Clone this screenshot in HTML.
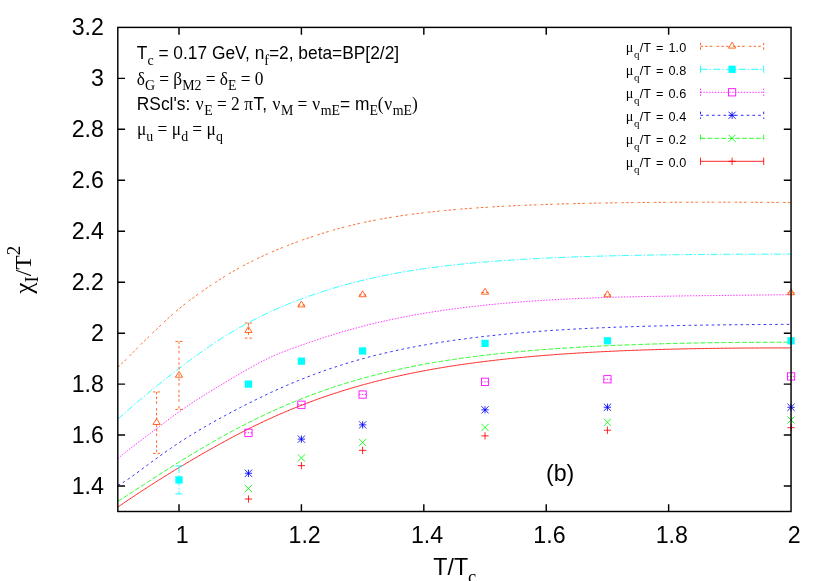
<!DOCTYPE html>
<html><head><meta charset="utf-8"><title>chart</title>
<style>html,body{margin:0;padding:0;background:#fff;}svg{display:block;will-change:transform;}text{font-family:"Liberation Sans",sans-serif;fill:#000;}.s{font-family:"Liberation Serif",serif;}</style></head><body>
<svg width="830" height="581" viewBox="0 0 830 581">
<rect width="830" height="581" fill="#fff"/>
<path d="M117.8 507.1 L119.15 506.18 L120.5 505.26 L121.85 504.34 L123.19 503.42 L124.54 502.51 L125.89 501.6 L127.24 500.68 L128.59 499.78 L129.94 498.87 L131.29 497.97 L132.63 497.07 L133.98 496.17 L135.33 495.27 L136.68 494.38 L138.03 493.49 L139.38 492.6 L140.73 491.71 L142.07 490.83 L143.42 489.95 L144.77 489.07 L146.12 488.19 L147.47 487.32 L148.82 486.45 L150.17 485.58 L151.51 484.71 L152.86 483.85 L154.21 482.99 L155.56 482.13 L156.91 481.27 L158.26 480.42 L159.61 479.57 L160.96 478.72 L162.3 477.88 L163.65 477.03 L165 476.19 L166.35 475.36 L167.7 474.52 L169.05 473.69 L170.4 472.86 L171.74 472.03 L173.09 471.2 L174.44 470.38 L175.79 469.56 L177.14 468.74 L178.49 467.93 L179.84 467.11 L181.18 466.3 L182.53 465.49 L183.88 464.69 L185.23 463.89 L186.58 463.08 L187.93 462.29 L189.28 461.49 L190.62 460.69 L191.97 459.9 L193.32 459.11 L194.67 458.33 L196.02 457.54 L197.37 456.76 L198.72 455.98 L200.06 455.2 L201.41 454.42 L202.76 453.65 L204.11 452.88 L205.46 452.11 L206.81 451.34 L208.16 450.57 L209.5 449.81 L210.85 449.05 L212.2 448.29 L213.55 447.54 L214.9 446.78 L216.25 446.03 L217.6 445.28 L218.94 444.53 L220.29 443.78 L221.64 443.04 L222.99 442.3 L224.34 441.56 L225.69 440.83 L227.04 440.1 L228.38 439.37 L229.73 438.64 L231.08 437.92 L232.43 437.2 L233.78 436.48 L235.13 435.77 L236.48 435.06 L237.83 434.35 L239.17 433.65 L240.52 432.95 L241.87 432.25 L243.22 431.56 L244.57 430.87 L245.92 430.18 L247.27 429.5 L248.61 428.82 L249.96 428.15 L251.31 427.48 L252.66 426.81 L254.01 426.15 L255.36 425.49 L256.71 424.83 L258.05 424.18 L259.4 423.53 L260.75 422.89 L262.1 422.25 L263.45 421.61 L264.8 420.98 L266.15 420.35 L267.49 419.73 L268.84 419.1 L270.19 418.49 L271.54 417.87 L272.89 417.26 L274.24 416.66 L275.59 416.06 L276.93 415.46 L278.28 414.87 L279.63 414.28 L280.98 413.69 L282.33 413.11 L283.68 412.53 L285.03 411.95 L286.37 411.38 L287.72 410.81 L289.07 410.25 L290.42 409.69 L291.77 409.14 L293.12 408.58 L294.47 408.04 L295.81 407.49 L297.16 406.95 L298.51 406.41 L299.86 405.88 L301.21 405.35 L302.56 404.83 L303.91 404.3 L305.26 403.79 L306.6 403.27 L307.95 402.76 L309.3 402.25 L310.65 401.75 L312 401.25 L313.35 400.75 L314.7 400.26 L316.04 399.77 L317.39 399.28 L318.74 398.8 L320.09 398.32 L321.44 397.85 L322.79 397.37 L324.14 396.91 L325.48 396.44 L326.83 395.98 L328.18 395.52 L329.53 395.07 L330.88 394.62 L332.23 394.17 L333.58 393.72 L334.92 393.28 L336.27 392.85 L337.62 392.41 L338.97 391.98 L340.32 391.55 L341.67 391.13 L343.02 390.71 L344.36 390.29 L345.71 389.87 L347.06 389.46 L348.41 389.05 L349.76 388.65 L351.11 388.25 L352.46 387.85 L353.8 387.45 L355.15 387.06 L356.5 386.67 L357.85 386.28 L359.2 385.9 L360.55 385.52 L361.9 385.14 L363.24 384.77 L364.59 384.4 L365.94 384.03 L367.29 383.66 L368.64 383.3 L369.99 382.94 L371.34 382.59 L372.68 382.23 L374.03 381.88 L375.38 381.53 L376.73 381.19 L378.08 380.85 L379.43 380.51 L380.78 380.17 L382.13 379.84 L383.47 379.51 L384.82 379.18 L386.17 378.85 L387.52 378.53 L388.87 378.21 L390.22 377.89 L391.57 377.58 L392.91 377.27 L394.26 376.96 L395.61 376.65 L396.96 376.35 L398.31 376.05 L399.66 375.75 L401.01 375.45 L402.35 375.16 L403.7 374.87 L405.05 374.58 L406.4 374.29 L407.75 374.01 L409.1 373.73 L410.45 373.45 L411.79 373.18 L413.14 372.9 L414.49 372.63 L415.84 372.36 L417.19 372.1 L418.54 371.83 L419.89 371.57 L421.23 371.31 L422.58 371.06 L423.93 370.8 L425.28 370.55 L426.63 370.3 L427.98 370.06 L429.33 369.81 L430.67 369.57 L432.02 369.33 L433.37 369.09 L434.72 368.85 L436.07 368.62 L437.42 368.39 L438.77 368.16 L440.11 367.93 L441.46 367.71 L442.81 367.48 L444.16 367.26 L445.51 367.04 L446.86 366.82 L448.21 366.61 L449.55 366.39 L450.9 366.18 L452.25 365.97 L453.6 365.77 L454.95 365.56 L456.3 365.36 L457.65 365.15 L459 364.95 L460.34 364.76 L461.69 364.56 L463.04 364.36 L464.39 364.17 L465.74 363.98 L467.09 363.79 L468.44 363.6 L469.78 363.42 L471.13 363.23 L472.48 363.05 L473.83 362.87 L475.18 362.69 L476.53 362.51 L477.88 362.34 L479.22 362.16 L480.57 361.99 L481.92 361.82 L483.27 361.65 L484.62 361.48 L485.97 361.32 L487.32 361.15 L488.66 360.99 L490.01 360.83 L491.36 360.67 L492.71 360.51 L494.06 360.35 L495.41 360.19 L496.76 360.04 L498.1 359.89 L499.45 359.74 L500.8 359.59 L502.15 359.44 L503.5 359.29 L504.85 359.14 L506.2 359 L507.54 358.86 L508.89 358.71 L510.24 358.57 L511.59 358.44 L512.94 358.3 L514.29 358.16 L515.64 358.03 L516.98 357.89 L518.33 357.76 L519.68 357.63 L521.03 357.5 L522.38 357.37 L523.73 357.24 L525.08 357.12 L526.42 356.99 L527.77 356.87 L529.12 356.75 L530.47 356.62 L531.82 356.5 L533.17 356.39 L534.52 356.27 L535.87 356.15 L537.21 356.04 L538.56 355.92 L539.91 355.81 L541.26 355.7 L542.61 355.59 L543.96 355.48 L545.31 355.37 L546.65 355.26 L548 355.15 L549.35 355.05 L550.7 354.94 L552.05 354.84 L553.4 354.74 L554.75 354.64 L556.09 354.54 L557.44 354.44 L558.79 354.34 L560.14 354.24 L561.49 354.15 L562.84 354.05 L564.19 353.96 L565.53 353.87 L566.88 353.78 L568.23 353.68 L569.58 353.59 L570.93 353.51 L572.28 353.42 L573.63 353.33 L574.97 353.24 L576.32 353.16 L577.67 353.07 L579.02 352.99 L580.37 352.91 L581.72 352.83 L583.07 352.75 L584.41 352.67 L585.76 352.59 L587.11 352.51 L588.46 352.43 L589.81 352.36 L591.16 352.28 L592.51 352.21 L593.85 352.13 L595.2 352.06 L596.55 351.99 L597.9 351.92 L599.25 351.85 L600.6 351.78 L601.95 351.71 L603.29 351.64 L604.64 351.58 L605.99 351.51 L607.34 351.44 L608.69 351.38 L610.04 351.32 L611.39 351.25 L612.74 351.19 L614.08 351.13 L615.43 351.07 L616.78 351.01 L618.13 350.95 L619.48 350.89 L620.83 350.84 L622.18 350.78 L623.52 350.72 L624.87 350.67 L626.22 350.61 L627.57 350.56 L628.92 350.51 L630.27 350.45 L631.62 350.4 L632.96 350.35 L634.31 350.3 L635.66 350.25 L637.01 350.2 L638.36 350.15 L639.71 350.11 L641.06 350.06 L642.4 350.01 L643.75 349.97 L645.1 349.92 L646.45 349.88 L647.8 349.83 L649.15 349.79 L650.5 349.75 L651.84 349.71 L653.19 349.67 L654.54 349.62 L655.89 349.58 L657.24 349.55 L658.59 349.51 L659.94 349.47 L661.28 349.43 L662.63 349.39 L663.98 349.36 L665.33 349.32 L666.68 349.29 L668.03 349.25 L669.38 349.22 L670.72 349.18 L672.07 349.15 L673.42 349.12 L674.77 349.09 L676.12 349.05 L677.47 349.02 L678.82 348.99 L680.17 348.96 L681.51 348.93 L682.86 348.9 L684.21 348.88 L685.56 348.85 L686.91 348.82 L688.26 348.79 L689.61 348.77 L690.95 348.74 L692.3 348.72 L693.65 348.69 L695 348.67 L696.35 348.64 L697.7 348.62 L699.05 348.6 L700.39 348.57 L701.74 348.55 L703.09 348.53 L704.44 348.51 L705.79 348.49 L707.14 348.47 L708.49 348.45 L709.83 348.43 L711.18 348.41 L712.53 348.39 L713.88 348.37 L715.23 348.35 L716.58 348.33 L717.93 348.32 L719.27 348.3 L720.62 348.28 L721.97 348.27 L723.32 348.25 L724.67 348.24 L726.02 348.22 L727.37 348.21 L728.71 348.19 L730.06 348.18 L731.41 348.17 L732.76 348.15 L734.11 348.14 L735.46 348.13 L736.81 348.12 L738.15 348.11 L739.5 348.1 L740.85 348.09 L742.2 348.07 L743.55 348.06 L744.9 348.06 L746.25 348.05 L747.59 348.04 L748.94 348.03 L750.29 348.02 L751.64 348.01 L752.99 348 L754.34 348 L755.69 347.99 L757.04 347.98 L758.38 347.98 L759.73 347.97 L761.08 347.97 L762.43 347.96 L763.78 347.95 L765.13 347.95 L766.48 347.95 L767.82 347.94 L769.17 347.94 L770.52 347.93 L771.87 347.93 L773.22 347.93 L774.57 347.92 L775.92 347.92 L777.26 347.92 L778.61 347.92 L779.96 347.92 L781.31 347.91 L782.66 347.91 L784.01 347.91 L785.36 347.91 L786.7 347.91 L788.05 347.91 L789.4 347.91 L790.75 347.91" fill="none" stroke="#ff0000" stroke-width="0.85"/>
<path d="M117.8 501.34 L119.15 500.51 L120.5 499.67 L121.85 498.82 L123.19 497.97 L124.54 497.12 L125.89 496.26 L127.24 495.39 L128.59 494.52 L129.94 493.65 L131.29 492.78 L132.63 491.9 L133.98 491.02 L135.33 490.14 L136.68 489.26 L138.03 488.38 L139.38 487.5 L140.73 486.62 L142.07 485.74 L143.42 484.86 L144.77 483.98 L146.12 483.1 L147.47 482.22 L148.82 481.34 L150.17 480.46 L151.51 479.58 L152.86 478.71 L154.21 477.83 L155.56 476.96 L156.91 476.09 L158.26 475.22 L159.61 474.35 L160.96 473.49 L162.3 472.62 L163.65 471.76 L165 470.9 L166.35 470.04 L167.7 469.19 L169.05 468.34 L170.4 467.48 L171.74 466.64 L173.09 465.79 L174.44 464.94 L175.79 464.1 L177.14 463.26 L178.49 462.43 L179.84 461.59 L181.18 460.76 L182.53 459.93 L183.88 459.1 L185.23 458.28 L186.58 457.45 L187.93 456.63 L189.28 455.82 L190.62 455 L191.97 454.19 L193.32 453.38 L194.67 452.57 L196.02 451.76 L197.37 450.96 L198.72 450.16 L200.06 449.36 L201.41 448.57 L202.76 447.78 L204.11 446.99 L205.46 446.2 L206.81 445.41 L208.16 444.63 L209.5 443.85 L210.85 443.07 L212.2 442.3 L213.55 441.52 L214.9 440.75 L216.25 439.99 L217.6 439.22 L218.94 438.46 L220.29 437.71 L221.64 436.95 L222.99 436.2 L224.34 435.45 L225.69 434.71 L227.04 433.97 L228.38 433.23 L229.73 432.5 L231.08 431.77 L232.43 431.04 L233.78 430.32 L235.13 429.6 L236.48 428.88 L237.83 428.17 L239.17 427.46 L240.52 426.75 L241.87 426.05 L243.22 425.35 L244.57 424.66 L245.92 423.97 L247.27 423.28 L248.61 422.6 L249.96 421.92 L251.31 421.24 L252.66 420.57 L254.01 419.91 L255.36 419.24 L256.71 418.58 L258.05 417.92 L259.4 417.27 L260.75 416.62 L262.1 415.98 L263.45 415.34 L264.8 414.7 L266.15 414.06 L267.49 413.43 L268.84 412.81 L270.19 412.18 L271.54 411.57 L272.89 410.95 L274.24 410.34 L275.59 409.73 L276.93 409.13 L278.28 408.53 L279.63 407.93 L280.98 407.34 L282.33 406.75 L283.68 406.17 L285.03 405.59 L286.37 405.01 L287.72 404.43 L289.07 403.87 L290.42 403.3 L291.77 402.74 L293.12 402.18 L294.47 401.63 L295.81 401.08 L297.16 400.53 L298.51 399.99 L299.86 399.45 L301.21 398.91 L302.56 398.38 L303.91 397.85 L305.26 397.33 L306.6 396.81 L307.95 396.29 L309.3 395.78 L310.65 395.27 L312 394.77 L313.35 394.27 L314.7 393.77 L316.04 393.27 L317.39 392.78 L318.74 392.3 L320.09 391.81 L321.44 391.33 L322.79 390.86 L324.14 390.38 L325.48 389.91 L326.83 389.45 L328.18 388.99 L329.53 388.53 L330.88 388.07 L332.23 387.62 L333.58 387.17 L334.92 386.73 L336.27 386.29 L337.62 385.85 L338.97 385.42 L340.32 384.99 L341.67 384.56 L343.02 384.14 L344.36 383.71 L345.71 383.3 L347.06 382.88 L348.41 382.47 L349.76 382.07 L351.11 381.66 L352.46 381.26 L353.8 380.86 L355.15 380.47 L356.5 380.08 L357.85 379.69 L359.2 379.31 L360.55 378.92 L361.9 378.55 L363.24 378.17 L364.59 377.8 L365.94 377.43 L367.29 377.06 L368.64 376.7 L369.99 376.34 L371.34 375.99 L372.68 375.63 L374.03 375.28 L375.38 374.93 L376.73 374.59 L378.08 374.25 L379.43 373.91 L380.78 373.57 L382.13 373.24 L383.47 372.91 L384.82 372.58 L386.17 372.26 L387.52 371.94 L388.87 371.62 L390.22 371.31 L391.57 370.99 L392.91 370.68 L394.26 370.38 L395.61 370.07 L396.96 369.77 L398.31 369.47 L399.66 369.18 L401.01 368.88 L402.35 368.59 L403.7 368.31 L405.05 368.02 L406.4 367.74 L407.75 367.46 L409.1 367.18 L410.45 366.91 L411.79 366.64 L413.14 366.37 L414.49 366.1 L415.84 365.84 L417.19 365.57 L418.54 365.32 L419.89 365.06 L421.23 364.81 L422.58 364.55 L423.93 364.3 L425.28 364.06 L426.63 363.81 L427.98 363.57 L429.33 363.33 L430.67 363.1 L432.02 362.86 L433.37 362.63 L434.72 362.4 L436.07 362.17 L437.42 361.94 L438.77 361.72 L440.11 361.5 L441.46 361.28 L442.81 361.06 L444.16 360.85 L445.51 360.64 L446.86 360.42 L448.21 360.22 L449.55 360.01 L450.9 359.8 L452.25 359.6 L453.6 359.4 L454.95 359.2 L456.3 359 L457.65 358.81 L459 358.62 L460.34 358.42 L461.69 358.24 L463.04 358.05 L464.39 357.86 L465.74 357.68 L467.09 357.5 L468.44 357.31 L469.78 357.14 L471.13 356.96 L472.48 356.78 L473.83 356.61 L475.18 356.44 L476.53 356.27 L477.88 356.1 L479.22 355.93 L480.57 355.77 L481.92 355.6 L483.27 355.44 L484.62 355.28 L485.97 355.12 L487.32 354.96 L488.66 354.81 L490.01 354.65 L491.36 354.5 L492.71 354.35 L494.06 354.2 L495.41 354.05 L496.76 353.9 L498.1 353.76 L499.45 353.61 L500.8 353.47 L502.15 353.33 L503.5 353.19 L504.85 353.05 L506.2 352.91 L507.54 352.77 L508.89 352.64 L510.24 352.51 L511.59 352.37 L512.94 352.24 L514.29 352.11 L515.64 351.99 L516.98 351.86 L518.33 351.73 L519.68 351.61 L521.03 351.48 L522.38 351.36 L523.73 351.24 L525.08 351.12 L526.42 351 L527.77 350.89 L529.12 350.77 L530.47 350.66 L531.82 350.54 L533.17 350.43 L534.52 350.32 L535.87 350.21 L537.21 350.1 L538.56 349.99 L539.91 349.88 L541.26 349.78 L542.61 349.67 L543.96 349.57 L545.31 349.47 L546.65 349.36 L548 349.26 L549.35 349.16 L550.7 349.06 L552.05 348.97 L553.4 348.87 L554.75 348.77 L556.09 348.68 L557.44 348.59 L558.79 348.49 L560.14 348.4 L561.49 348.31 L562.84 348.22 L564.19 348.13 L565.53 348.04 L566.88 347.96 L568.23 347.87 L569.58 347.79 L570.93 347.7 L572.28 347.62 L573.63 347.54 L574.97 347.45 L576.32 347.37 L577.67 347.29 L579.02 347.21 L580.37 347.14 L581.72 347.06 L583.07 346.98 L584.41 346.91 L585.76 346.83 L587.11 346.76 L588.46 346.68 L589.81 346.61 L591.16 346.54 L592.51 346.47 L593.85 346.4 L595.2 346.33 L596.55 346.26 L597.9 346.19 L599.25 346.13 L600.6 346.06 L601.95 346 L603.29 345.93 L604.64 345.87 L605.99 345.8 L607.34 345.74 L608.69 345.68 L610.04 345.62 L611.39 345.56 L612.74 345.5 L614.08 345.44 L615.43 345.38 L616.78 345.32 L618.13 345.27 L619.48 345.21 L620.83 345.16 L622.18 345.1 L623.52 345.05 L624.87 344.99 L626.22 344.94 L627.57 344.89 L628.92 344.84 L630.27 344.79 L631.62 344.74 L632.96 344.69 L634.31 344.64 L635.66 344.59 L637.01 344.54 L638.36 344.49 L639.71 344.45 L641.06 344.4 L642.4 344.36 L643.75 344.31 L645.1 344.27 L646.45 344.22 L647.8 344.18 L649.15 344.14 L650.5 344.1 L651.84 344.05 L653.19 344.01 L654.54 343.97 L655.89 343.93 L657.24 343.9 L658.59 343.86 L659.94 343.82 L661.28 343.78 L662.63 343.74 L663.98 343.71 L665.33 343.67 L666.68 343.64 L668.03 343.6 L669.38 343.57 L670.72 343.53 L672.07 343.5 L673.42 343.47 L674.77 343.44 L676.12 343.41 L677.47 343.37 L678.82 343.34 L680.17 343.31 L681.51 343.28 L682.86 343.25 L684.21 343.23 L685.56 343.2 L686.91 343.17 L688.26 343.14 L689.61 343.12 L690.95 343.09 L692.3 343.06 L693.65 343.04 L695 343.01 L696.35 342.99 L697.7 342.96 L699.05 342.94 L700.39 342.92 L701.74 342.89 L703.09 342.87 L704.44 342.85 L705.79 342.83 L707.14 342.81 L708.49 342.79 L709.83 342.77 L711.18 342.75 L712.53 342.73 L713.88 342.71 L715.23 342.69 L716.58 342.67 L717.93 342.65 L719.27 342.64 L720.62 342.62 L721.97 342.6 L723.32 342.59 L724.67 342.57 L726.02 342.56 L727.37 342.54 L728.71 342.53 L730.06 342.51 L731.41 342.5 L732.76 342.49 L734.11 342.47 L735.46 342.46 L736.81 342.45 L738.15 342.43 L739.5 342.42 L740.85 342.41 L742.2 342.4 L743.55 342.39 L744.9 342.38 L746.25 342.37 L747.59 342.36 L748.94 342.35 L750.29 342.34 L751.64 342.33 L752.99 342.33 L754.34 342.32 L755.69 342.31 L757.04 342.3 L758.38 342.3 L759.73 342.29 L761.08 342.28 L762.43 342.28 L763.78 342.27 L765.13 342.27 L766.48 342.26 L767.82 342.26 L769.17 342.25 L770.52 342.25 L771.87 342.25 L773.22 342.24 L774.57 342.24 L775.92 342.24 L777.26 342.24 L778.61 342.23 L779.96 342.23 L781.31 342.23 L782.66 342.23 L784.01 342.23 L785.36 342.23 L786.7 342.23 L788.05 342.23 L789.4 342.23 L790.75 342.23" fill="none" stroke="#00ff00" stroke-width="0.85" stroke-dasharray="4.86,2.06"/>
<path d="M117.8 485.43 L119.15 484.71 L120.5 483.94 L121.85 483.15 L123.19 482.32 L124.54 481.47 L125.89 480.59 L127.24 479.69 L128.59 478.78 L129.94 477.85 L131.29 476.91 L132.63 475.95 L133.98 474.99 L135.33 474.01 L136.68 473.03 L138.03 472.04 L139.38 471.05 L140.73 470.05 L142.07 469.06 L143.42 468.06 L144.77 467.05 L146.12 466.05 L147.47 465.05 L148.82 464.05 L150.17 463.05 L151.51 462.06 L152.86 461.06 L154.21 460.07 L155.56 459.09 L156.91 458.1 L158.26 457.13 L159.61 456.15 L160.96 455.18 L162.3 454.22 L163.65 453.26 L165 452.3 L166.35 451.36 L167.7 450.41 L169.05 449.48 L170.4 448.55 L171.74 447.62 L173.09 446.7 L174.44 445.79 L175.79 444.89 L177.14 443.99 L178.49 443.1 L179.84 442.21 L181.18 441.33 L182.53 440.46 L183.88 439.6 L185.23 438.74 L186.58 437.89 L187.93 437.04 L189.28 436.2 L190.62 435.36 L191.97 434.53 L193.32 433.71 L194.67 432.89 L196.02 432.07 L197.37 431.26 L198.72 430.46 L200.06 429.66 L201.41 428.86 L202.76 428.07 L204.11 427.29 L205.46 426.5 L206.81 425.73 L208.16 424.95 L209.5 424.18 L210.85 423.42 L212.2 422.65 L213.55 421.9 L214.9 421.14 L216.25 420.39 L217.6 419.64 L218.94 418.9 L220.29 418.16 L221.64 417.42 L222.99 416.69 L224.34 415.96 L225.69 415.23 L227.04 414.51 L228.38 413.79 L229.73 413.07 L231.08 412.35 L232.43 411.64 L233.78 410.93 L235.13 410.22 L236.48 409.52 L237.83 408.82 L239.17 408.12 L240.52 407.42 L241.87 406.73 L243.22 406.04 L244.57 405.35 L245.92 404.67 L247.27 403.98 L248.61 403.3 L249.96 402.62 L251.31 401.95 L252.66 401.28 L254.01 400.61 L255.36 399.94 L256.71 399.28 L258.05 398.62 L259.4 397.96 L260.75 397.31 L262.1 396.66 L263.45 396.01 L264.8 395.37 L266.15 394.73 L267.49 394.09 L268.84 393.46 L270.19 392.83 L271.54 392.2 L272.89 391.58 L274.24 390.96 L275.59 390.35 L276.93 389.74 L278.28 389.13 L279.63 388.53 L280.98 387.93 L282.33 387.33 L283.68 386.74 L285.03 386.15 L286.37 385.57 L287.72 384.99 L289.07 384.41 L290.42 383.84 L291.77 383.27 L293.12 382.7 L294.47 382.14 L295.81 381.59 L297.16 381.03 L298.51 380.48 L299.86 379.94 L301.21 379.4 L302.56 378.86 L303.91 378.33 L305.26 377.8 L306.6 377.27 L307.95 376.75 L309.3 376.23 L310.65 375.72 L312 375.2 L313.35 374.7 L314.7 374.2 L316.04 373.7 L317.39 373.2 L318.74 372.71 L320.09 372.22 L321.44 371.74 L322.79 371.26 L324.14 370.78 L325.48 370.31 L326.83 369.84 L328.18 369.38 L329.53 368.92 L330.88 368.46 L332.23 368.01 L333.58 367.56 L334.92 367.11 L336.27 366.67 L337.62 366.23 L338.97 365.8 L340.32 365.36 L341.67 364.94 L343.02 364.51 L344.36 364.09 L345.71 363.67 L347.06 363.26 L348.41 362.85 L349.76 362.45 L351.11 362.04 L352.46 361.64 L353.8 361.25 L355.15 360.86 L356.5 360.47 L357.85 360.08 L359.2 359.7 L360.55 359.32 L361.9 358.95 L363.24 358.58 L364.59 358.21 L365.94 357.84 L367.29 357.48 L368.64 357.12 L369.99 356.77 L371.34 356.42 L372.68 356.07 L374.03 355.72 L375.38 355.38 L376.73 355.05 L378.08 354.71 L379.43 354.38 L380.78 354.05 L382.13 353.73 L383.47 353.4 L384.82 353.08 L386.17 352.77 L387.52 352.46 L388.87 352.15 L390.22 351.84 L391.57 351.54 L392.91 351.24 L394.26 350.94 L395.61 350.64 L396.96 350.35 L398.31 350.06 L399.66 349.78 L401.01 349.49 L402.35 349.21 L403.7 348.94 L405.05 348.66 L406.4 348.39 L407.75 348.12 L409.1 347.85 L410.45 347.59 L411.79 347.32 L413.14 347.07 L414.49 346.81 L415.84 346.55 L417.19 346.3 L418.54 346.05 L419.89 345.81 L421.23 345.56 L422.58 345.32 L423.93 345.08 L425.28 344.84 L426.63 344.61 L427.98 344.37 L429.33 344.14 L430.67 343.92 L432.02 343.69 L433.37 343.47 L434.72 343.24 L436.07 343.02 L437.42 342.81 L438.77 342.59 L440.11 342.38 L441.46 342.17 L442.81 341.96 L444.16 341.75 L445.51 341.55 L446.86 341.34 L448.21 341.14 L449.55 340.94 L450.9 340.75 L452.25 340.55 L453.6 340.36 L454.95 340.17 L456.3 339.98 L457.65 339.79 L459 339.6 L460.34 339.42 L461.69 339.24 L463.04 339.06 L464.39 338.88 L465.74 338.7 L467.09 338.53 L468.44 338.35 L469.78 338.18 L471.13 338.01 L472.48 337.84 L473.83 337.68 L475.18 337.51 L476.53 337.35 L477.88 337.19 L479.22 337.03 L480.57 336.87 L481.92 336.71 L483.27 336.56 L484.62 336.4 L485.97 336.25 L487.32 336.1 L488.66 335.95 L490.01 335.8 L491.36 335.66 L492.71 335.51 L494.06 335.37 L495.41 335.23 L496.76 335.09 L498.1 334.95 L499.45 334.81 L500.8 334.68 L502.15 334.54 L503.5 334.41 L504.85 334.28 L506.2 334.15 L507.54 334.02 L508.89 333.89 L510.24 333.76 L511.59 333.64 L512.94 333.51 L514.29 333.39 L515.64 333.27 L516.98 333.15 L518.33 333.03 L519.68 332.91 L521.03 332.8 L522.38 332.68 L523.73 332.57 L525.08 332.45 L526.42 332.34 L527.77 332.23 L529.12 332.12 L530.47 332.02 L531.82 331.91 L533.17 331.8 L534.52 331.7 L535.87 331.6 L537.21 331.49 L538.56 331.39 L539.91 331.29 L541.26 331.19 L542.61 331.1 L543.96 331 L545.31 330.9 L546.65 330.81 L548 330.72 L549.35 330.62 L550.7 330.53 L552.05 330.44 L553.4 330.35 L554.75 330.27 L556.09 330.18 L557.44 330.09 L558.79 330.01 L560.14 329.92 L561.49 329.84 L562.84 329.76 L564.19 329.68 L565.53 329.59 L566.88 329.52 L568.23 329.44 L569.58 329.36 L570.93 329.28 L572.28 329.21 L573.63 329.13 L574.97 329.06 L576.32 328.99 L577.67 328.91 L579.02 328.84 L580.37 328.77 L581.72 328.7 L583.07 328.63 L584.41 328.57 L585.76 328.5 L587.11 328.43 L588.46 328.37 L589.81 328.3 L591.16 328.24 L592.51 328.18 L593.85 328.12 L595.2 328.06 L596.55 328 L597.9 327.94 L599.25 327.88 L600.6 327.82 L601.95 327.76 L603.29 327.71 L604.64 327.65 L605.99 327.6 L607.34 327.54 L608.69 327.49 L610.04 327.44 L611.39 327.38 L612.74 327.33 L614.08 327.28 L615.43 327.23 L616.78 327.18 L618.13 327.13 L619.48 327.09 L620.83 327.04 L622.18 326.99 L623.52 326.95 L624.87 326.9 L626.22 326.86 L627.57 326.81 L628.92 326.77 L630.27 326.73 L631.62 326.68 L632.96 326.64 L634.31 326.6 L635.66 326.56 L637.01 326.52 L638.36 326.48 L639.71 326.44 L641.06 326.4 L642.4 326.36 L643.75 326.33 L645.1 326.29 L646.45 326.25 L647.8 326.22 L649.15 326.18 L650.5 326.15 L651.84 326.11 L653.19 326.08 L654.54 326.05 L655.89 326.01 L657.24 325.98 L658.59 325.95 L659.94 325.92 L661.28 325.89 L662.63 325.86 L663.98 325.83 L665.33 325.8 L666.68 325.77 L668.03 325.74 L669.38 325.71 L670.72 325.68 L672.07 325.65 L673.42 325.63 L674.77 325.6 L676.12 325.57 L677.47 325.55 L678.82 325.52 L680.17 325.5 L681.51 325.47 L682.86 325.45 L684.21 325.42 L685.56 325.4 L686.91 325.38 L688.26 325.35 L689.61 325.33 L690.95 325.31 L692.3 325.29 L693.65 325.26 L695 325.24 L696.35 325.22 L697.7 325.2 L699.05 325.18 L700.39 325.16 L701.74 325.14 L703.09 325.12 L704.44 325.1 L705.79 325.08 L707.14 325.06 L708.49 325.05 L709.83 325.03 L711.18 325.01 L712.53 324.99 L713.88 324.98 L715.23 324.96 L716.58 324.94 L717.93 324.93 L719.27 324.91 L720.62 324.89 L721.97 324.88 L723.32 324.86 L724.67 324.85 L726.02 324.83 L727.37 324.82 L728.71 324.81 L730.06 324.79 L731.41 324.78 L732.76 324.76 L734.11 324.75 L735.46 324.74 L736.81 324.72 L738.15 324.71 L739.5 324.7 L740.85 324.69 L742.2 324.67 L743.55 324.66 L744.9 324.65 L746.25 324.64 L747.59 324.63 L748.94 324.62 L750.29 324.61 L751.64 324.6 L752.99 324.58 L754.34 324.57 L755.69 324.56 L757.04 324.55 L758.38 324.54 L759.73 324.53 L761.08 324.53 L762.43 324.52 L763.78 324.51 L765.13 324.5 L766.48 324.49 L767.82 324.48 L769.17 324.47 L770.52 324.46 L771.87 324.46 L773.22 324.45 L774.57 324.44 L775.92 324.43 L777.26 324.42 L778.61 324.42 L779.96 324.41 L781.31 324.4 L782.66 324.39 L784.01 324.39 L785.36 324.38 L786.7 324.37 L788.05 324.37 L789.4 324.36 L790.75 324.35" fill="none" stroke="#0000ff" stroke-width="0.85" stroke-dasharray="2.56,3.21"/>
<path d="M117.8 458.5 L119.15 457.38 L120.5 456.27 L121.85 455.17 L123.19 454.09 L124.54 453.02 L125.89 451.95 L127.24 450.9 L128.59 449.85 L129.94 448.81 L131.29 447.78 L132.63 446.74 L133.98 445.72 L135.33 444.69 L136.68 443.67 L138.03 442.65 L139.38 441.63 L140.73 440.61 L142.07 439.59 L143.42 438.58 L144.77 437.56 L146.12 436.54 L147.47 435.52 L148.82 434.51 L150.17 433.49 L151.51 432.46 L152.86 431.44 L154.21 430.42 L155.56 429.4 L156.91 428.37 L158.26 427.34 L159.61 426.31 L160.96 425.29 L162.3 424.26 L163.65 423.24 L165 422.21 L166.35 421.2 L167.7 420.18 L169.05 419.17 L170.4 418.17 L171.74 417.17 L173.09 416.18 L174.44 415.19 L175.79 414.21 L177.14 413.24 L178.49 412.28 L179.84 411.32 L181.18 410.37 L182.53 409.43 L183.88 408.5 L185.23 407.57 L186.58 406.65 L187.93 405.74 L189.28 404.84 L190.62 403.94 L191.97 403.05 L193.32 402.16 L194.67 401.28 L196.02 400.4 L197.37 399.53 L198.72 398.67 L200.06 397.81 L201.41 396.95 L202.76 396.1 L204.11 395.25 L205.46 394.4 L206.81 393.56 L208.16 392.72 L209.5 391.89 L210.85 391.06 L212.2 390.23 L213.55 389.41 L214.9 388.58 L216.25 387.76 L217.6 386.95 L218.94 386.13 L220.29 385.32 L221.64 384.51 L222.99 383.7 L224.34 382.89 L225.69 382.09 L227.04 381.29 L228.38 380.49 L229.73 379.69 L231.08 378.89 L232.43 378.1 L233.78 377.3 L235.13 376.51 L236.48 375.72 L237.83 374.93 L239.17 374.14 L240.52 373.35 L241.87 372.57 L243.22 371.79 L244.57 371.01 L245.92 370.23 L247.27 369.46 L248.61 368.69 L249.96 367.93 L251.31 367.17 L252.66 366.42 L254.01 365.68 L255.36 364.95 L256.71 364.22 L258.05 363.5 L259.4 362.78 L260.75 362.08 L262.1 361.39 L263.45 360.7 L264.8 360.02 L266.15 359.36 L267.49 358.7 L268.84 358.06 L270.19 357.42 L271.54 356.8 L272.89 356.18 L274.24 355.58 L275.59 354.99 L276.93 354.41 L278.28 353.84 L279.63 353.29 L280.98 352.74 L282.33 352.21 L283.68 351.69 L285.03 351.17 L286.37 350.66 L287.72 350.16 L289.07 349.66 L290.42 349.17 L291.77 348.67 L293.12 348.18 L294.47 347.69 L295.81 347.2 L297.16 346.71 L298.51 346.23 L299.86 345.74 L301.21 345.26 L302.56 344.79 L303.91 344.31 L305.26 343.84 L306.6 343.37 L307.95 342.9 L309.3 342.43 L310.65 341.97 L312 341.51 L313.35 341.05 L314.7 340.6 L316.04 340.15 L317.39 339.7 L318.74 339.25 L320.09 338.8 L321.44 338.36 L322.79 337.92 L324.14 337.49 L325.48 337.06 L326.83 336.62 L328.18 336.2 L329.53 335.77 L330.88 335.35 L332.23 334.93 L333.58 334.52 L334.92 334.1 L336.27 333.69 L337.62 333.29 L338.97 332.88 L340.32 332.48 L341.67 332.08 L343.02 331.69 L344.36 331.29 L345.71 330.9 L347.06 330.52 L348.41 330.13 L349.76 329.75 L351.11 329.38 L352.46 329 L353.8 328.63 L355.15 328.26 L356.5 327.9 L357.85 327.53 L359.2 327.18 L360.55 326.82 L361.9 326.47 L363.24 326.12 L364.59 325.77 L365.94 325.42 L367.29 325.08 L368.64 324.75 L369.99 324.41 L371.34 324.08 L372.68 323.75 L374.03 323.42 L375.38 323.1 L376.73 322.78 L378.08 322.46 L379.43 322.15 L380.78 321.84 L382.13 321.53 L383.47 321.23 L384.82 320.92 L386.17 320.63 L387.52 320.33 L388.87 320.04 L390.22 319.75 L391.57 319.46 L392.91 319.17 L394.26 318.89 L395.61 318.61 L396.96 318.34 L398.31 318.06 L399.66 317.79 L401.01 317.52 L402.35 317.26 L403.7 317 L405.05 316.74 L406.4 316.48 L407.75 316.22 L409.1 315.97 L410.45 315.72 L411.79 315.47 L413.14 315.23 L414.49 314.98 L415.84 314.74 L417.19 314.51 L418.54 314.27 L419.89 314.04 L421.23 313.81 L422.58 313.58 L423.93 313.35 L425.28 313.13 L426.63 312.9 L427.98 312.68 L429.33 312.47 L430.67 312.25 L432.02 312.04 L433.37 311.83 L434.72 311.62 L436.07 311.41 L437.42 311.21 L438.77 311 L440.11 310.8 L441.46 310.6 L442.81 310.41 L444.16 310.21 L445.51 310.02 L446.86 309.83 L448.21 309.64 L449.55 309.45 L450.9 309.27 L452.25 309.09 L453.6 308.9 L454.95 308.73 L456.3 308.55 L457.65 308.37 L459 308.2 L460.34 308.03 L461.69 307.86 L463.04 307.69 L464.39 307.52 L465.74 307.36 L467.09 307.19 L468.44 307.03 L469.78 306.87 L471.13 306.71 L472.48 306.56 L473.83 306.4 L475.18 306.25 L476.53 306.1 L477.88 305.95 L479.22 305.8 L480.57 305.65 L481.92 305.5 L483.27 305.36 L484.62 305.22 L485.97 305.08 L487.32 304.94 L488.66 304.8 L490.01 304.66 L491.36 304.53 L492.71 304.4 L494.06 304.26 L495.41 304.13 L496.76 304.01 L498.1 303.88 L499.45 303.75 L500.8 303.63 L502.15 303.5 L503.5 303.38 L504.85 303.26 L506.2 303.14 L507.54 303.03 L508.89 302.91 L510.24 302.79 L511.59 302.68 L512.94 302.57 L514.29 302.46 L515.64 302.35 L516.98 302.24 L518.33 302.13 L519.68 302.02 L521.03 301.92 L522.38 301.82 L523.73 301.71 L525.08 301.61 L526.42 301.51 L527.77 301.41 L529.12 301.32 L530.47 301.22 L531.82 301.13 L533.17 301.03 L534.52 300.94 L535.87 300.85 L537.21 300.76 L538.56 300.67 L539.91 300.58 L541.26 300.49 L542.61 300.41 L543.96 300.32 L545.31 300.24 L546.65 300.16 L548 300.07 L549.35 299.99 L550.7 299.91 L552.05 299.84 L553.4 299.76 L554.75 299.68 L556.09 299.61 L557.44 299.53 L558.79 299.46 L560.14 299.39 L561.49 299.32 L562.84 299.25 L564.19 299.18 L565.53 299.11 L566.88 299.04 L568.23 298.98 L569.58 298.91 L570.93 298.85 L572.28 298.78 L573.63 298.72 L574.97 298.66 L576.32 298.6 L577.67 298.54 L579.02 298.48 L580.37 298.42 L581.72 298.37 L583.07 298.31 L584.41 298.26 L585.76 298.2 L587.11 298.15 L588.46 298.1 L589.81 298.04 L591.16 297.99 L592.51 297.94 L593.85 297.89 L595.2 297.85 L596.55 297.8 L597.9 297.75 L599.25 297.71 L600.6 297.66 L601.95 297.62 L603.29 297.58 L604.64 297.53 L605.99 297.49 L607.34 297.45 L608.69 297.41 L610.04 297.37 L611.39 297.33 L612.74 297.29 L614.08 297.25 L615.43 297.22 L616.78 297.18 L618.13 297.14 L619.48 297.11 L620.83 297.07 L622.18 297.04 L623.52 297 L624.87 296.97 L626.22 296.94 L627.57 296.91 L628.92 296.88 L630.27 296.84 L631.62 296.81 L632.96 296.78 L634.31 296.75 L635.66 296.73 L637.01 296.7 L638.36 296.67 L639.71 296.64 L641.06 296.61 L642.4 296.59 L643.75 296.56 L645.1 296.53 L646.45 296.51 L647.8 296.48 L649.15 296.46 L650.5 296.43 L651.84 296.41 L653.19 296.39 L654.54 296.36 L655.89 296.34 L657.24 296.32 L658.59 296.29 L659.94 296.27 L661.28 296.25 L662.63 296.23 L663.98 296.21 L665.33 296.19 L666.68 296.16 L668.03 296.14 L669.38 296.12 L670.72 296.1 L672.07 296.08 L673.42 296.06 L674.77 296.04 L676.12 296.03 L677.47 296.01 L678.82 295.99 L680.17 295.97 L681.51 295.95 L682.86 295.93 L684.21 295.92 L685.56 295.9 L686.91 295.88 L688.26 295.86 L689.61 295.85 L690.95 295.83 L692.3 295.81 L693.65 295.8 L695 295.78 L696.35 295.76 L697.7 295.75 L699.05 295.73 L700.39 295.71 L701.74 295.7 L703.09 295.68 L704.44 295.67 L705.79 295.65 L707.14 295.63 L708.49 295.62 L709.83 295.6 L711.18 295.59 L712.53 295.57 L713.88 295.56 L715.23 295.54 L716.58 295.53 L717.93 295.51 L719.27 295.5 L720.62 295.48 L721.97 295.47 L723.32 295.45 L724.67 295.44 L726.02 295.42 L727.37 295.41 L728.71 295.39 L730.06 295.38 L731.41 295.36 L732.76 295.35 L734.11 295.33 L735.46 295.31 L736.81 295.3 L738.15 295.28 L739.5 295.27 L740.85 295.25 L742.2 295.24 L743.55 295.22 L744.9 295.21 L746.25 295.19 L747.59 295.18 L748.94 295.16 L750.29 295.15 L751.64 295.13 L752.99 295.12 L754.34 295.1 L755.69 295.09 L757.04 295.07 L758.38 295.05 L759.73 295.04 L761.08 295.02 L762.43 295.01 L763.78 294.99 L765.13 294.97 L766.48 294.96 L767.82 294.94 L769.17 294.92 L770.52 294.91 L771.87 294.89 L773.22 294.87 L774.57 294.86 L775.92 294.84 L777.26 294.82 L778.61 294.81 L779.96 294.79 L781.31 294.77 L782.66 294.75 L784.01 294.74 L785.36 294.72 L786.7 294.7 L788.05 294.68 L789.4 294.66 L790.75 294.64" fill="none" stroke="#ff00ff" stroke-width="0.85" stroke-dasharray="1.4,1.48"/>
<path d="M117.8 419.25 L119.15 418.03 L120.5 416.81 L121.85 415.6 L123.19 414.4 L124.54 413.21 L125.89 412.01 L127.24 410.83 L128.59 409.65 L129.94 408.47 L131.29 407.3 L132.63 406.14 L133.98 404.97 L135.33 403.82 L136.68 402.67 L138.03 401.52 L139.38 400.38 L140.73 399.24 L142.07 398.1 L143.42 396.97 L144.77 395.84 L146.12 394.72 L147.47 393.6 L148.82 392.49 L150.17 391.38 L151.51 390.27 L152.86 389.17 L154.21 388.07 L155.56 386.97 L156.91 385.88 L158.26 384.79 L159.61 383.71 L160.96 382.63 L162.3 381.55 L163.65 380.47 L165 379.4 L166.35 378.33 L167.7 377.27 L169.05 376.21 L170.4 375.15 L171.74 374.1 L173.09 373.04 L174.44 372 L175.79 370.95 L177.14 369.91 L178.49 368.87 L179.84 367.83 L181.18 366.8 L182.53 365.77 L183.88 364.75 L185.23 363.73 L186.58 362.71 L187.93 361.7 L189.28 360.69 L190.62 359.69 L191.97 358.7 L193.32 357.7 L194.67 356.72 L196.02 355.74 L197.37 354.76 L198.72 353.8 L200.06 352.83 L201.41 351.88 L202.76 350.93 L204.11 349.98 L205.46 349.05 L206.81 348.12 L208.16 347.19 L209.5 346.27 L210.85 345.36 L212.2 344.46 L213.55 343.56 L214.9 342.67 L216.25 341.78 L217.6 340.91 L218.94 340.03 L220.29 339.17 L221.64 338.31 L222.99 337.46 L224.34 336.62 L225.69 335.78 L227.04 334.95 L228.38 334.13 L229.73 333.31 L231.08 332.5 L232.43 331.7 L233.78 330.9 L235.13 330.11 L236.48 329.33 L237.83 328.55 L239.17 327.78 L240.52 327.02 L241.87 326.26 L243.22 325.51 L244.57 324.77 L245.92 324.03 L247.27 323.3 L248.61 322.58 L249.96 321.86 L251.31 321.15 L252.66 320.45 L254.01 319.75 L255.36 319.06 L256.71 318.38 L258.05 317.7 L259.4 317.02 L260.75 316.36 L262.1 315.7 L263.45 315.05 L264.8 314.4 L266.15 313.76 L267.49 313.12 L268.84 312.49 L270.19 311.87 L271.54 311.25 L272.89 310.64 L274.24 310.03 L275.59 309.43 L276.93 308.84 L278.28 308.25 L279.63 307.67 L280.98 307.09 L282.33 306.51 L283.68 305.95 L285.03 305.38 L286.37 304.83 L287.72 304.27 L289.07 303.73 L290.42 303.18 L291.77 302.65 L293.12 302.11 L294.47 301.59 L295.81 301.06 L297.16 300.54 L298.51 300.03 L299.86 299.52 L301.21 299.02 L302.56 298.52 L303.91 298.02 L305.26 297.53 L306.6 297.04 L307.95 296.56 L309.3 296.08 L310.65 295.61 L312 295.14 L313.35 294.68 L314.7 294.21 L316.04 293.76 L317.39 293.3 L318.74 292.86 L320.09 292.41 L321.44 291.97 L322.79 291.53 L324.14 291.1 L325.48 290.67 L326.83 290.25 L328.18 289.82 L329.53 289.41 L330.88 288.99 L332.23 288.58 L333.58 288.18 L334.92 287.78 L336.27 287.38 L337.62 286.98 L338.97 286.59 L340.32 286.21 L341.67 285.83 L343.02 285.45 L344.36 285.07 L345.71 284.7 L347.06 284.33 L348.41 283.97 L349.76 283.61 L351.11 283.25 L352.46 282.9 L353.8 282.55 L355.15 282.2 L356.5 281.86 L357.85 281.52 L359.2 281.18 L360.55 280.85 L361.9 280.52 L363.24 280.2 L364.59 279.87 L365.94 279.56 L367.29 279.24 L368.64 278.93 L369.99 278.62 L371.34 278.31 L372.68 278.01 L374.03 277.71 L375.38 277.42 L376.73 277.12 L378.08 276.83 L379.43 276.55 L380.78 276.27 L382.13 275.98 L383.47 275.71 L384.82 275.43 L386.17 275.16 L387.52 274.89 L388.87 274.63 L390.22 274.37 L391.57 274.11 L392.91 273.85 L394.26 273.6 L395.61 273.35 L396.96 273.1 L398.31 272.85 L399.66 272.61 L401.01 272.37 L402.35 272.13 L403.7 271.9 L405.05 271.67 L406.4 271.44 L407.75 271.21 L409.1 270.99 L410.45 270.77 L411.79 270.55 L413.14 270.34 L414.49 270.12 L415.84 269.91 L417.19 269.71 L418.54 269.5 L419.89 269.3 L421.23 269.1 L422.58 268.9 L423.93 268.71 L425.28 268.51 L426.63 268.32 L427.98 268.13 L429.33 267.95 L430.67 267.77 L432.02 267.58 L433.37 267.4 L434.72 267.23 L436.07 267.05 L437.42 266.88 L438.77 266.71 L440.11 266.54 L441.46 266.37 L442.81 266.21 L444.16 266.05 L445.51 265.89 L446.86 265.73 L448.21 265.57 L449.55 265.42 L450.9 265.27 L452.25 265.11 L453.6 264.97 L454.95 264.82 L456.3 264.67 L457.65 264.53 L459 264.39 L460.34 264.25 L461.69 264.11 L463.04 263.97 L464.39 263.84 L465.74 263.7 L467.09 263.57 L468.44 263.44 L469.78 263.31 L471.13 263.19 L472.48 263.06 L473.83 262.94 L475.18 262.81 L476.53 262.69 L477.88 262.57 L479.22 262.45 L480.57 262.34 L481.92 262.22 L483.27 262.11 L484.62 262 L485.97 261.89 L487.32 261.78 L488.66 261.67 L490.01 261.56 L491.36 261.45 L492.71 261.35 L494.06 261.25 L495.41 261.15 L496.76 261.04 L498.1 260.95 L499.45 260.85 L500.8 260.75 L502.15 260.65 L503.5 260.56 L504.85 260.47 L506.2 260.37 L507.54 260.28 L508.89 260.19 L510.24 260.1 L511.59 260.02 L512.94 259.93 L514.29 259.84 L515.64 259.76 L516.98 259.68 L518.33 259.59 L519.68 259.51 L521.03 259.43 L522.38 259.35 L523.73 259.27 L525.08 259.19 L526.42 259.12 L527.77 259.04 L529.12 258.97 L530.47 258.89 L531.82 258.82 L533.17 258.75 L534.52 258.68 L535.87 258.61 L537.21 258.54 L538.56 258.47 L539.91 258.4 L541.26 258.34 L542.61 258.27 L543.96 258.21 L545.31 258.14 L546.65 258.08 L548 258.02 L549.35 257.95 L550.7 257.89 L552.05 257.83 L553.4 257.77 L554.75 257.72 L556.09 257.66 L557.44 257.6 L558.79 257.54 L560.14 257.49 L561.49 257.43 L562.84 257.38 L564.19 257.33 L565.53 257.27 L566.88 257.22 L568.23 257.17 L569.58 257.12 L570.93 257.07 L572.28 257.02 L573.63 256.97 L574.97 256.92 L576.32 256.87 L577.67 256.83 L579.02 256.78 L580.37 256.74 L581.72 256.69 L583.07 256.65 L584.41 256.6 L585.76 256.56 L587.11 256.52 L588.46 256.47 L589.81 256.43 L591.16 256.39 L592.51 256.35 L593.85 256.31 L595.2 256.27 L596.55 256.23 L597.9 256.19 L599.25 256.16 L600.6 256.12 L601.95 256.08 L603.29 256.05 L604.64 256.01 L605.99 255.98 L607.34 255.94 L608.69 255.91 L610.04 255.87 L611.39 255.84 L612.74 255.81 L614.08 255.77 L615.43 255.74 L616.78 255.71 L618.13 255.68 L619.48 255.65 L620.83 255.62 L622.18 255.59 L623.52 255.56 L624.87 255.53 L626.22 255.5 L627.57 255.48 L628.92 255.45 L630.27 255.42 L631.62 255.39 L632.96 255.37 L634.31 255.34 L635.66 255.32 L637.01 255.29 L638.36 255.27 L639.71 255.24 L641.06 255.22 L642.4 255.19 L643.75 255.17 L645.1 255.15 L646.45 255.12 L647.8 255.1 L649.15 255.08 L650.5 255.06 L651.84 255.04 L653.19 255.02 L654.54 255 L655.89 254.98 L657.24 254.96 L658.59 254.94 L659.94 254.92 L661.28 254.9 L662.63 254.88 L663.98 254.86 L665.33 254.84 L666.68 254.83 L668.03 254.81 L669.38 254.79 L670.72 254.77 L672.07 254.76 L673.42 254.74 L674.77 254.73 L676.12 254.71 L677.47 254.69 L678.82 254.68 L680.17 254.66 L681.51 254.65 L682.86 254.64 L684.21 254.62 L685.56 254.61 L686.91 254.59 L688.26 254.58 L689.61 254.57 L690.95 254.55 L692.3 254.54 L693.65 254.53 L695 254.52 L696.35 254.5 L697.7 254.49 L699.05 254.48 L700.39 254.47 L701.74 254.46 L703.09 254.45 L704.44 254.44 L705.79 254.43 L707.14 254.42 L708.49 254.41 L709.83 254.4 L711.18 254.39 L712.53 254.38 L713.88 254.37 L715.23 254.36 L716.58 254.35 L717.93 254.34 L719.27 254.33 L720.62 254.33 L721.97 254.32 L723.32 254.31 L724.67 254.3 L726.02 254.3 L727.37 254.29 L728.71 254.28 L730.06 254.27 L731.41 254.27 L732.76 254.26 L734.11 254.25 L735.46 254.25 L736.81 254.24 L738.15 254.24 L739.5 254.23 L740.85 254.22 L742.2 254.22 L743.55 254.21 L744.9 254.21 L746.25 254.2 L747.59 254.2 L748.94 254.19 L750.29 254.19 L751.64 254.18 L752.99 254.18 L754.34 254.18 L755.69 254.17 L757.04 254.17 L758.38 254.16 L759.73 254.16 L761.08 254.16 L762.43 254.15 L763.78 254.15 L765.13 254.15 L766.48 254.14 L767.82 254.14 L769.17 254.14 L770.52 254.14 L771.87 254.13 L773.22 254.13 L774.57 254.13 L775.92 254.13 L777.26 254.12 L778.61 254.12 L779.96 254.12 L781.31 254.12 L782.66 254.12 L784.01 254.11 L785.36 254.11 L786.7 254.11 L788.05 254.11 L789.4 254.11 L790.75 254.11" fill="none" stroke="#00ffff" stroke-width="0.85" stroke-dasharray="7.17,2.06,1.4,2.06"/>
<path d="M117.8 367.23 L119.15 366.04 L120.5 364.82 L121.85 363.56 L123.19 362.28 L124.54 360.97 L125.89 359.64 L127.24 358.29 L128.59 356.94 L129.94 355.57 L131.29 354.2 L132.63 352.83 L133.98 351.45 L135.33 350.08 L136.68 348.7 L138.03 347.33 L139.38 345.97 L140.73 344.61 L142.07 343.27 L143.42 341.93 L144.77 340.6 L146.12 339.28 L147.47 337.97 L148.82 336.67 L150.17 335.37 L151.51 334.08 L152.86 332.79 L154.21 331.49 L155.56 330.2 L156.91 328.91 L158.26 327.61 L159.61 326.32 L160.96 325.03 L162.3 323.75 L163.65 322.48 L165 321.22 L166.35 319.96 L167.7 318.71 L169.05 317.48 L170.4 316.26 L171.74 315.05 L173.09 313.86 L174.44 312.68 L175.79 311.52 L177.14 310.37 L178.49 309.24 L179.84 308.12 L181.18 307.02 L182.53 305.93 L183.88 304.85 L185.23 303.78 L186.58 302.73 L187.93 301.68 L189.28 300.65 L190.62 299.63 L191.97 298.62 L193.32 297.62 L194.67 296.63 L196.02 295.64 L197.37 294.67 L198.72 293.71 L200.06 292.75 L201.41 291.8 L202.76 290.86 L204.11 289.93 L205.46 289 L206.81 288.08 L208.16 287.17 L209.5 286.27 L210.85 285.37 L212.2 284.47 L213.55 283.59 L214.9 282.71 L216.25 281.83 L217.6 280.96 L218.94 280.1 L220.29 279.24 L221.64 278.39 L222.99 277.55 L224.34 276.71 L225.69 275.88 L227.04 275.06 L228.38 274.24 L229.73 273.43 L231.08 272.63 L232.43 271.84 L233.78 271.06 L235.13 270.28 L236.48 269.51 L237.83 268.75 L239.17 268 L240.52 267.25 L241.87 266.52 L243.22 265.79 L244.57 265.07 L245.92 264.36 L247.27 263.65 L248.61 262.95 L249.96 262.26 L251.31 261.58 L252.66 260.91 L254.01 260.24 L255.36 259.57 L256.71 258.92 L258.05 258.27 L259.4 257.63 L260.75 256.99 L262.1 256.36 L263.45 255.74 L264.8 255.12 L266.15 254.51 L267.49 253.9 L268.84 253.31 L270.19 252.71 L271.54 252.12 L272.89 251.54 L274.24 250.96 L275.59 250.39 L276.93 249.82 L278.28 249.26 L279.63 248.71 L280.98 248.16 L282.33 247.61 L283.68 247.07 L285.03 246.53 L286.37 246 L287.72 245.47 L289.07 244.95 L290.42 244.44 L291.77 243.92 L293.12 243.41 L294.47 242.91 L295.81 242.41 L297.16 241.91 L298.51 241.42 L299.86 240.94 L301.21 240.45 L302.56 239.97 L303.91 239.5 L305.26 239.03 L306.6 238.56 L307.95 238.1 L309.3 237.64 L310.65 237.18 L312 236.73 L313.35 236.28 L314.7 235.84 L316.04 235.4 L317.39 234.96 L318.74 234.52 L320.09 234.09 L321.44 233.67 L322.79 233.24 L324.14 232.83 L325.48 232.41 L326.83 232 L328.18 231.59 L329.53 231.19 L330.88 230.79 L332.23 230.4 L333.58 230.01 L334.92 229.62 L336.27 229.24 L337.62 228.86 L338.97 228.49 L340.32 228.12 L341.67 227.76 L343.02 227.4 L344.36 227.04 L345.71 226.69 L347.06 226.35 L348.41 226.01 L349.76 225.67 L351.11 225.34 L352.46 225.01 L353.8 224.69 L355.15 224.37 L356.5 224.06 L357.85 223.75 L359.2 223.44 L360.55 223.14 L361.9 222.85 L363.24 222.55 L364.59 222.26 L365.94 221.98 L367.29 221.7 L368.64 221.42 L369.99 221.15 L371.34 220.88 L372.68 220.61 L374.03 220.35 L375.38 220.09 L376.73 219.84 L378.08 219.58 L379.43 219.34 L380.78 219.09 L382.13 218.85 L383.47 218.61 L384.82 218.37 L386.17 218.14 L387.52 217.91 L388.87 217.69 L390.22 217.46 L391.57 217.24 L392.91 217.03 L394.26 216.81 L395.61 216.6 L396.96 216.39 L398.31 216.19 L399.66 215.98 L401.01 215.78 L402.35 215.59 L403.7 215.39 L405.05 215.2 L406.4 215.01 L407.75 214.82 L409.1 214.64 L410.45 214.45 L411.79 214.27 L413.14 214.1 L414.49 213.92 L415.84 213.75 L417.19 213.58 L418.54 213.41 L419.89 213.24 L421.23 213.08 L422.58 212.92 L423.93 212.76 L425.28 212.6 L426.63 212.45 L427.98 212.29 L429.33 212.14 L430.67 211.99 L432.02 211.84 L433.37 211.7 L434.72 211.56 L436.07 211.41 L437.42 211.27 L438.77 211.14 L440.11 211 L441.46 210.87 L442.81 210.73 L444.16 210.6 L445.51 210.47 L446.86 210.35 L448.21 210.22 L449.55 210.1 L450.9 209.97 L452.25 209.85 L453.6 209.73 L454.95 209.62 L456.3 209.5 L457.65 209.39 L459 209.27 L460.34 209.16 L461.69 209.05 L463.04 208.94 L464.39 208.84 L465.74 208.73 L467.09 208.63 L468.44 208.52 L469.78 208.42 L471.13 208.32 L472.48 208.22 L473.83 208.13 L475.18 208.03 L476.53 207.93 L477.88 207.84 L479.22 207.75 L480.57 207.66 L481.92 207.57 L483.27 207.48 L484.62 207.39 L485.97 207.3 L487.32 207.22 L488.66 207.14 L490.01 207.05 L491.36 206.97 L492.71 206.89 L494.06 206.81 L495.41 206.73 L496.76 206.65 L498.1 206.58 L499.45 206.5 L500.8 206.43 L502.15 206.35 L503.5 206.28 L504.85 206.21 L506.2 206.14 L507.54 206.07 L508.89 206 L510.24 205.93 L511.59 205.87 L512.94 205.8 L514.29 205.74 L515.64 205.67 L516.98 205.61 L518.33 205.55 L519.68 205.49 L521.03 205.43 L522.38 205.37 L523.73 205.31 L525.08 205.25 L526.42 205.19 L527.77 205.14 L529.12 205.08 L530.47 205.03 L531.82 204.97 L533.17 204.92 L534.52 204.87 L535.87 204.81 L537.21 204.76 L538.56 204.71 L539.91 204.66 L541.26 204.61 L542.61 204.57 L543.96 204.52 L545.31 204.47 L546.65 204.42 L548 204.38 L549.35 204.33 L550.7 204.29 L552.05 204.25 L553.4 204.2 L554.75 204.16 L556.09 204.12 L557.44 204.08 L558.79 204.04 L560.14 204 L561.49 203.96 L562.84 203.92 L564.19 203.88 L565.53 203.84 L566.88 203.81 L568.23 203.77 L569.58 203.73 L570.93 203.7 L572.28 203.66 L573.63 203.63 L574.97 203.59 L576.32 203.56 L577.67 203.53 L579.02 203.5 L580.37 203.46 L581.72 203.43 L583.07 203.4 L584.41 203.37 L585.76 203.34 L587.11 203.31 L588.46 203.28 L589.81 203.26 L591.16 203.23 L592.51 203.2 L593.85 203.17 L595.2 203.15 L596.55 203.12 L597.9 203.1 L599.25 203.07 L600.6 203.05 L601.95 203.02 L603.29 203 L604.64 202.97 L605.99 202.95 L607.34 202.93 L608.69 202.91 L610.04 202.89 L611.39 202.86 L612.74 202.84 L614.08 202.82 L615.43 202.8 L616.78 202.78 L618.13 202.76 L619.48 202.74 L620.83 202.73 L622.18 202.71 L623.52 202.69 L624.87 202.67 L626.22 202.65 L627.57 202.64 L628.92 202.62 L630.27 202.61 L631.62 202.59 L632.96 202.57 L634.31 202.56 L635.66 202.54 L637.01 202.53 L638.36 202.52 L639.71 202.5 L641.06 202.49 L642.4 202.48 L643.75 202.46 L645.1 202.45 L646.45 202.44 L647.8 202.43 L649.15 202.42 L650.5 202.41 L651.84 202.39 L653.19 202.38 L654.54 202.37 L655.89 202.36 L657.24 202.35 L658.59 202.34 L659.94 202.34 L661.28 202.33 L662.63 202.32 L663.98 202.31 L665.33 202.3 L666.68 202.29 L668.03 202.29 L669.38 202.28 L670.72 202.27 L672.07 202.27 L673.42 202.26 L674.77 202.25 L676.12 202.25 L677.47 202.24 L678.82 202.24 L680.17 202.23 L681.51 202.23 L682.86 202.22 L684.21 202.22 L685.56 202.21 L686.91 202.21 L688.26 202.21 L689.61 202.2 L690.95 202.2 L692.3 202.2 L693.65 202.19 L695 202.19 L696.35 202.19 L697.7 202.19 L699.05 202.19 L700.39 202.18 L701.74 202.18 L703.09 202.18 L704.44 202.18 L705.79 202.18 L707.14 202.18 L708.49 202.18 L709.83 202.18 L711.18 202.18 L712.53 202.18 L713.88 202.18 L715.23 202.18 L716.58 202.18 L717.93 202.18 L719.27 202.18 L720.62 202.18 L721.97 202.18 L723.32 202.19 L724.67 202.19 L726.02 202.19 L727.37 202.19 L728.71 202.19 L730.06 202.2 L731.41 202.2 L732.76 202.2 L734.11 202.21 L735.46 202.21 L736.81 202.21 L738.15 202.22 L739.5 202.22 L740.85 202.22 L742.2 202.23 L743.55 202.23 L744.9 202.24 L746.25 202.24 L747.59 202.24 L748.94 202.25 L750.29 202.25 L751.64 202.26 L752.99 202.26 L754.34 202.27 L755.69 202.28 L757.04 202.28 L758.38 202.29 L759.73 202.29 L761.08 202.3 L762.43 202.31 L763.78 202.31 L765.13 202.32 L766.48 202.32 L767.82 202.33 L769.17 202.34 L770.52 202.35 L771.87 202.35 L773.22 202.36 L774.57 202.37 L775.92 202.37 L777.26 202.38 L778.61 202.39 L779.96 202.4 L781.31 202.41 L782.66 202.41 L784.01 202.42 L785.36 202.43 L786.7 202.44 L788.05 202.45 L789.4 202.46 L790.75 202.46" fill="none" stroke="#ff4d00" stroke-width="0.85" stroke-dasharray="2.56,2.06,2.56,2.06,2.56,4.36"/>
<path d="M248.47 495.39V502.65M244.84 499.02H252.1" stroke="#ff0000" stroke-width="0.85" fill="none"/>
<path d="M301.41 462.01V469.27M297.78 465.64H305.04" stroke="#ff0000" stroke-width="0.85" fill="none"/>
<path d="M362.62 446.72V453.98M358.99 450.35H366.25" stroke="#ff0000" stroke-width="0.85" fill="none"/>
<path d="M485.03 432.2V439.46M481.4 435.83H488.66" stroke="#ff0000" stroke-width="0.85" fill="none"/>
<path d="M607.44 426.59V433.85M603.81 430.22H611.07" stroke="#ff0000" stroke-width="0.85" fill="none"/>
<path d="M791.05 424.04V431.3M787.42 427.67H794.68" stroke="#ff0000" stroke-width="0.85" fill="none"/>
<path d="M244.84 484.94L252.1 492.2M244.84 492.2L252.1 484.94" stroke="#00ff00" stroke-width="0.85" fill="none"/>
<path d="M297.78 454.36L305.04 461.62M297.78 461.62L305.04 454.36" stroke="#00ff00" stroke-width="0.85" fill="none"/>
<path d="M358.99 438.82L366.25 446.08M358.99 446.08L366.25 438.82" stroke="#00ff00" stroke-width="0.85" fill="none"/>
<path d="M481.4 423.79L488.66 431.05M481.4 431.05L488.66 423.79" stroke="#00ff00" stroke-width="0.85" fill="none"/>
<path d="M603.81 418.69L611.07 425.95M603.81 425.95L611.07 418.69" stroke="#00ff00" stroke-width="0.85" fill="none"/>
<path d="M787.42 416.4L794.68 423.66M787.42 423.66L794.68 416.4" stroke="#00ff00" stroke-width="0.85" fill="none"/>
<path d="M248.47 469.65V476.91M244.84 473.28H252.1" stroke="#0000ff" stroke-width="0.85" fill="none"/><path d="M244.84 469.65L252.1 476.91M244.84 476.91L252.1 469.65" stroke="#0000ff" stroke-width="0.85" fill="none"/>
<path d="M301.41 435.51V442.77M297.78 439.14H305.04" stroke="#0000ff" stroke-width="0.85" fill="none"/><path d="M297.78 435.51L305.04 442.77M297.78 442.77L305.04 435.51" stroke="#0000ff" stroke-width="0.85" fill="none"/>
<path d="M362.62 421.24V428.5M358.99 424.87H366.25" stroke="#0000ff" stroke-width="0.85" fill="none"/><path d="M358.99 421.24L366.25 428.5M358.99 428.5L366.25 421.24" stroke="#0000ff" stroke-width="0.85" fill="none"/>
<path d="M485.03 406.21V413.47M481.4 409.84H488.66" stroke="#0000ff" stroke-width="0.85" fill="none"/><path d="M481.4 406.21L488.66 413.47M481.4 413.47L488.66 406.21" stroke="#0000ff" stroke-width="0.85" fill="none"/>
<path d="M607.44 403.66V410.92M603.81 407.29H611.07" stroke="#0000ff" stroke-width="0.85" fill="none"/><path d="M603.81 403.66L611.07 410.92M603.81 410.92L611.07 403.66" stroke="#0000ff" stroke-width="0.85" fill="none"/>
<path d="M791.05 403.66V410.92M787.42 407.29H794.68" stroke="#0000ff" stroke-width="0.85" fill="none"/><path d="M787.42 403.66L794.68 410.92M787.42 410.92L794.68 403.66" stroke="#0000ff" stroke-width="0.85" fill="none"/>
<path d="M244.84 432.77H252.1" stroke="#ff00ff" stroke-width="0.85" fill="none" stroke-dasharray="1.4,1.48"/>
<rect x="244.84" y="429.14" width="7.26" height="7.26" stroke="#ff00ff" stroke-width="0.85" fill="none"/>
<path d="M297.78 404.74H305.04" stroke="#ff00ff" stroke-width="0.85" fill="none" stroke-dasharray="1.4,1.48"/>
<rect x="297.78" y="401.11" width="7.26" height="7.26" stroke="#ff00ff" stroke-width="0.85" fill="none"/>
<path d="M358.99 394.55H366.25" stroke="#ff00ff" stroke-width="0.85" fill="none" stroke-dasharray="1.4,1.48"/>
<rect x="358.99" y="390.92" width="7.26" height="7.26" stroke="#ff00ff" stroke-width="0.85" fill="none"/>
<path d="M481.4 381.81H488.66" stroke="#ff00ff" stroke-width="0.85" fill="none" stroke-dasharray="1.4,1.48"/>
<rect x="481.4" y="378.18" width="7.26" height="7.26" stroke="#ff00ff" stroke-width="0.85" fill="none"/>
<path d="M603.81 379.26H611.07" stroke="#ff00ff" stroke-width="0.85" fill="none" stroke-dasharray="1.4,1.48"/>
<rect x="603.81" y="375.63" width="7.26" height="7.26" stroke="#ff00ff" stroke-width="0.85" fill="none"/>
<path d="M787.42 376.46H794.68" stroke="#ff00ff" stroke-width="0.85" fill="none" stroke-dasharray="1.4,1.48"/>
<rect x="787.42" y="372.83" width="7.26" height="7.26" stroke="#ff00ff" stroke-width="0.85" fill="none"/>
<path d="M179 465.89V493.92" stroke="#00ffff" stroke-width="0.85" fill="none" stroke-dasharray="7.17,2.06,1.4,2.06"/>
<path d="M175.37 465.89H182.63M175.37 493.92H182.63" stroke="#00ffff" stroke-width="0.85" fill="none" stroke-dasharray="7.17,2.06,1.4,2.06"/>
<rect x="175.37" y="476.28" width="7.26" height="7.26" fill="#00ffff"/>
<rect x="244.84" y="380.48" width="7.26" height="7.26" fill="#00ffff"/>
<rect x="297.78" y="357.54" width="7.26" height="7.26" fill="#00ffff"/>
<rect x="358.99" y="347.35" width="7.26" height="7.26" fill="#00ffff"/>
<rect x="481.4" y="339.71" width="7.26" height="7.26" fill="#00ffff"/>
<rect x="603.81" y="337.16" width="7.26" height="7.26" fill="#00ffff"/>
<rect x="787.42" y="337.16" width="7.26" height="7.26" fill="#00ffff"/>
<path d="M156.6 391.95V453.36" stroke="#ff4d00" stroke-width="0.85" fill="none" stroke-dasharray="2.56,2.06,2.56,2.06,2.56,4.36"/>
<path d="M152.97 391.95H160.23M152.97 453.36H160.23" stroke="#ff4d00" stroke-width="0.85" fill="none" stroke-dasharray="2.56,2.06,2.56,2.06,2.56,4.36"/>
<path d="M156.6 418.59L152.97 424.47L160.23 424.47Z" stroke="#ff4d00" stroke-width="0.85" fill="none"/>
<path d="M179 341.4V409.38" stroke="#ff4d00" stroke-width="0.85" fill="none" stroke-dasharray="2.56,2.06,2.56,2.06,2.56,4.36"/>
<path d="M175.37 341.4H182.63M175.37 409.38H182.63" stroke="#ff4d00" stroke-width="0.85" fill="none" stroke-dasharray="2.56,2.06,2.56,2.06,2.56,4.36"/>
<path d="M179 371.33L175.37 377.21L182.63 377.21Z" stroke="#ff4d00" stroke-width="0.85" fill="none"/>
<path d="M248.47 323.06V338.14" stroke="#ff4d00" stroke-width="0.85" fill="none" stroke-dasharray="2.56,2.06,2.56,2.06,2.56,4.36"/>
<path d="M244.84 323.06H252.1M244.84 338.14H252.1" stroke="#ff4d00" stroke-width="0.85" fill="none" stroke-dasharray="2.56,2.06,2.56,2.06,2.56,4.36"/>
<path d="M248.47 326.53L244.84 332.41L252.1 332.41Z" stroke="#ff4d00" stroke-width="0.85" fill="none"/>
<path d="M297.78 305.12H305.04" stroke="#ff4d00" stroke-width="0.85" fill="none" stroke-dasharray="2.56,2.06,2.56,2.06,2.56,4.36"/>
<path d="M301.41 301.05L297.78 306.94L305.04 306.94Z" stroke="#ff4d00" stroke-width="0.85" fill="none"/>
<path d="M358.99 294.93H366.25" stroke="#ff4d00" stroke-width="0.85" fill="none" stroke-dasharray="2.56,2.06,2.56,2.06,2.56,4.36"/>
<path d="M362.62 290.86L358.99 296.74L366.25 296.74Z" stroke="#ff4d00" stroke-width="0.85" fill="none"/>
<path d="M481.4 292.38H488.66" stroke="#ff4d00" stroke-width="0.85" fill="none" stroke-dasharray="2.56,2.06,2.56,2.06,2.56,4.36"/>
<path d="M485.03 288.32L481.4 294.2L488.66 294.2Z" stroke="#ff4d00" stroke-width="0.85" fill="none"/>
<path d="M603.81 294.93H611.07" stroke="#ff4d00" stroke-width="0.85" fill="none" stroke-dasharray="2.56,2.06,2.56,2.06,2.56,4.36"/>
<path d="M607.44 290.86L603.81 296.74L611.07 296.74Z" stroke="#ff4d00" stroke-width="0.85" fill="none"/>
<path d="M787.42 292.89H794.68" stroke="#ff4d00" stroke-width="0.85" fill="none" stroke-dasharray="2.56,2.06,2.56,2.06,2.56,4.36"/>
<path d="M791.05 288.83L787.42 294.71L794.68 294.71Z" stroke="#ff4d00" stroke-width="0.85" fill="none"/>
<path d="M700.5 46.3H763.7" stroke="#ff4d00" stroke-width="0.85" fill="none" stroke-dasharray="2.56,2.06,2.56,2.06,2.56,4.36"/>
<path d="M700.5 42.67V49.93M763.7 42.67V49.93" stroke="#ff4d00" stroke-width="0.85" fill="none" stroke-dasharray="2.56,2.06,2.56,2.06,2.56,4.36"/>
<path d="M732.1 42.23L728.47 48.11L735.73 48.11Z" stroke="#ff4d00" stroke-width="0.85" fill="none"/>
<text transform="translate(686.2,52.2) scale(1,1.04)" text-anchor="end" font-size="12.7" word-spacing="1.7"><tspan class="s" font-size="14.22">μ</tspan><tspan class="s" font-size="10.92" dy="5.2" dx="0.6">q</tspan><tspan dy="-5.2" dx="0.3">/T = 1.0</tspan></text>
<path d="M700.5 69.3H763.7" stroke="#00ffff" stroke-width="0.85" fill="none" stroke-dasharray="7.17,2.06,1.4,2.06"/>
<path d="M700.5 65.67V72.93M763.7 65.67V72.93" stroke="#00ffff" stroke-width="0.85" fill="none" stroke-dasharray="7.17,2.06,1.4,2.06"/>
<rect x="728.47" y="65.67" width="7.26" height="7.26" fill="#00ffff"/>
<text transform="translate(686.2,75.2) scale(1,1.04)" text-anchor="end" font-size="12.7" word-spacing="1.7"><tspan class="s" font-size="14.22">μ</tspan><tspan class="s" font-size="10.92" dy="5.2" dx="0.6">q</tspan><tspan dy="-5.2" dx="0.3">/T = 0.8</tspan></text>
<path d="M700.5 92.3H763.7" stroke="#ff00ff" stroke-width="0.85" fill="none" stroke-dasharray="1.4,1.48"/>
<path d="M700.5 88.67V95.93M763.7 88.67V95.93" stroke="#ff00ff" stroke-width="0.85" fill="none" stroke-dasharray="1.4,1.48"/>
<rect x="728.47" y="88.67" width="7.26" height="7.26" stroke="#ff00ff" stroke-width="0.85" fill="none"/>
<text transform="translate(686.2,98.2) scale(1,1.04)" text-anchor="end" font-size="12.7" word-spacing="1.7"><tspan class="s" font-size="14.22">μ</tspan><tspan class="s" font-size="10.92" dy="5.2" dx="0.6">q</tspan><tspan dy="-5.2" dx="0.3">/T = 0.6</tspan></text>
<path d="M700.5 115.3H763.7" stroke="#0000ff" stroke-width="0.85" fill="none" stroke-dasharray="2.56,3.21"/>
<path d="M700.5 111.67V118.93M763.7 111.67V118.93" stroke="#0000ff" stroke-width="0.85" fill="none" stroke-dasharray="2.56,3.21"/>
<path d="M732.1 111.67V118.93M728.47 115.3H735.73" stroke="#0000ff" stroke-width="0.85" fill="none"/><path d="M728.47 111.67L735.73 118.93M728.47 118.93L735.73 111.67" stroke="#0000ff" stroke-width="0.85" fill="none"/>
<text transform="translate(686.2,121.2) scale(1,1.04)" text-anchor="end" font-size="12.7" word-spacing="1.7"><tspan class="s" font-size="14.22">μ</tspan><tspan class="s" font-size="10.92" dy="5.2" dx="0.6">q</tspan><tspan dy="-5.2" dx="0.3">/T = 0.4</tspan></text>
<path d="M700.5 138.3H763.7" stroke="#00ff00" stroke-width="0.85" fill="none" stroke-dasharray="4.86,2.06"/>
<path d="M700.5 134.67V141.93M763.7 134.67V141.93" stroke="#00ff00" stroke-width="0.85" fill="none" stroke-dasharray="4.86,2.06"/>
<path d="M728.47 134.67L735.73 141.93M728.47 141.93L735.73 134.67" stroke="#00ff00" stroke-width="0.85" fill="none"/>
<text transform="translate(686.2,144.2) scale(1,1.04)" text-anchor="end" font-size="12.7" word-spacing="1.7"><tspan class="s" font-size="14.22">μ</tspan><tspan class="s" font-size="10.92" dy="5.2" dx="0.6">q</tspan><tspan dy="-5.2" dx="0.3">/T = 0.2</tspan></text>
<path d="M700.5 161.3H763.7" stroke="#ff0000" stroke-width="0.85" fill="none"/>
<path d="M700.5 157.67V164.93M763.7 157.67V164.93" stroke="#ff0000" stroke-width="0.85" fill="none"/>
<path d="M732.1 157.67V164.93M728.47 161.3H735.73" stroke="#ff0000" stroke-width="0.85" fill="none"/>
<text transform="translate(686.2,167.2) scale(1,1.04)" text-anchor="end" font-size="12.7" word-spacing="1.7"><tspan class="s" font-size="14.22">μ</tspan><tspan class="s" font-size="10.92" dy="5.2" dx="0.6">q</tspan><tspan dy="-5.2" dx="0.3">/T = 0.0</tspan></text>
<rect x="117.8" y="27.4" width="673.25" height="484.1" fill="none" stroke="#000" stroke-width="1.45"/>
<path d="M179 511.5V504.24M179 27.4V34.66M301.41 511.5V504.24M301.41 27.4V34.66M423.82 511.5V504.24M423.82 27.4V34.66M546.23 511.5V504.24M546.23 27.4V34.66M668.64 511.5V504.24M668.64 27.4V34.66M117.8 486.02H125.06M791.05 486.02H783.79M117.8 435.06H125.06M791.05 435.06H783.79M117.8 384.11H125.06M791.05 384.11H783.79M117.8 333.15H125.06M791.05 333.15H783.79M117.8 282.19H125.06M791.05 282.19H783.79M117.8 231.23H125.06M791.05 231.23H783.79M117.8 180.27H125.06M791.05 180.27H783.79M117.8 129.32H125.06M791.05 129.32H783.79M117.8 78.36H125.06M791.05 78.36H783.79" stroke="#000" stroke-width="1.45" fill="none"/>
<text transform="translate(103.9,493.72) scale(1,1.03)" text-anchor="end" font-size="23.2">1.4</text>
<text transform="translate(103.9,442.76) scale(1,1.03)" text-anchor="end" font-size="23.2">1.6</text>
<text transform="translate(103.9,391.81) scale(1,1.03)" text-anchor="end" font-size="23.2">1.8</text>
<text transform="translate(103.9,340.85) scale(1,1.03)" text-anchor="end" font-size="23.2">2</text>
<text transform="translate(103.9,289.89) scale(1,1.03)" text-anchor="end" font-size="23.2">2.2</text>
<text transform="translate(103.9,238.93) scale(1,1.03)" text-anchor="end" font-size="23.2">2.4</text>
<text transform="translate(103.9,187.97) scale(1,1.03)" text-anchor="end" font-size="23.2">2.6</text>
<text transform="translate(103.9,137.02) scale(1,1.03)" text-anchor="end" font-size="23.2">2.8</text>
<text transform="translate(103.9,86.06) scale(1,1.03)" text-anchor="end" font-size="23.2">3</text>
<text transform="translate(103.9,35.1) scale(1,1.03)" text-anchor="end" font-size="23.2">3.2</text>
<text transform="translate(182.2,542.9) scale(1,1.03)" text-anchor="middle" font-size="23.2">1</text>
<text transform="translate(304.61,542.9) scale(1,1.03)" text-anchor="middle" font-size="23.2">1.2</text>
<text transform="translate(427.02,542.9) scale(1,1.03)" text-anchor="middle" font-size="23.2">1.4</text>
<text transform="translate(549.43,542.9) scale(1,1.03)" text-anchor="middle" font-size="23.2">1.6</text>
<text transform="translate(671.84,542.9) scale(1,1.03)" text-anchor="middle" font-size="23.2">1.8</text>
<text transform="translate(794.25,542.9) scale(1,1.03)" text-anchor="middle" font-size="23.2">2</text>
<text transform="translate(433.3,575.4) scale(1,1.02)" font-size="23.2">T/T<tspan class="s" font-size="18.56" dy="6.96">c</tspan></text>
<text transform="translate(30.9,293.8) rotate(-90)" font-size="23.6" class="s"><tspan font-size="25.49" dy="0.6">χ</tspan><tspan font-size="18.88" dy="6.48">I</tspan><tspan dy="-7.08">/T</tspan><tspan font-size="18.88" dy="-11.09">2</tspan></text>
<text transform="translate(546,481) scale(1,1.02)" font-size="23.2">(b)</text>
<text transform="translate(136.8,59.2) scale(1,1.05)" font-size="17.36" xml:space="preserve"><tspan>T</tspan><tspan class="s" font-size="13.89" dy="5.21">c</tspan><tspan dy="-5.21"> = 0.17 GeV, n</tspan><tspan class="s" font-size="13.89" dy="5.21">f</tspan><tspan dy="-5.21">=2, beta=BP[2/2]</tspan></text>
<text transform="translate(136.8,84.5) scale(1,1.05)" font-size="17.36" xml:space="preserve"><tspan class="s">δ</tspan><tspan class="s" font-size="13.89" dy="5.21">G</tspan><tspan class="s" dx="0 -0.08 -0.08 0" dy="-5.21"> = β</tspan><tspan class="s" font-size="13.89" dy="5.21">M2</tspan><tspan class="s" dx="0 -0.08 -0.08 -0" dy="-5.21"> = δ</tspan><tspan class="s" font-size="13.89" dy="5.21">E</tspan><tspan class="s" dx="0 -0.08 -0.08 0" dy="-5.21"> = 0</tspan></text>
<text transform="translate(136.8,109.8) scale(1,1.05)" font-size="17.36" xml:space="preserve"><tspan>RScl's: </tspan><tspan class="s" dx="0.63">ν</tspan><tspan class="s" font-size="13.89" dx="0.63" dy="5.21">E</tspan><tspan class="s" dx="0 -0.08 -0.08 0 0 0.38" dy="-5.21"> = 2 π</tspan><tspan dx="0.38 0 0">T, </tspan><tspan class="s" dx="0.63">ν</tspan><tspan class="s" font-size="13.89" dx="0.63" dy="5.21">M</tspan><tspan class="s" dx="0 -0.08 -0.08 0.63" dy="-5.21"> = ν</tspan><tspan class="s" font-size="13.89" dx="0.63 0" dy="5.21">mE</tspan><tspan dy="-5.21">= m</tspan><tspan class="s" font-size="13.89" dy="5.21">E</tspan><tspan class="s" dx="0 0.63" dy="-5.21">(ν</tspan><tspan class="s" font-size="13.89" dx="0.63 0" dy="5.21">mE</tspan><tspan class="s" dy="-5.21">)</tspan></text>
<text transform="translate(136.8,135.1) scale(1,1.05)" font-size="17.36" xml:space="preserve"><tspan class="s" dx="0.12">μ</tspan><tspan class="s" font-size="13.89" dx="0.12" dy="5.21">u</tspan><tspan class="s" dx="0 -0.08 -0.08 0.12" dy="-5.21"> = μ</tspan><tspan class="s" font-size="13.89" dx="0.12" dy="5.21">d</tspan><tspan class="s" dx="0 -0.08 -0.08 0.12" dy="-5.21"> = μ</tspan><tspan class="s" font-size="13.89" dx="0.12" dy="5.21">q</tspan></text>
</svg></body></html>
